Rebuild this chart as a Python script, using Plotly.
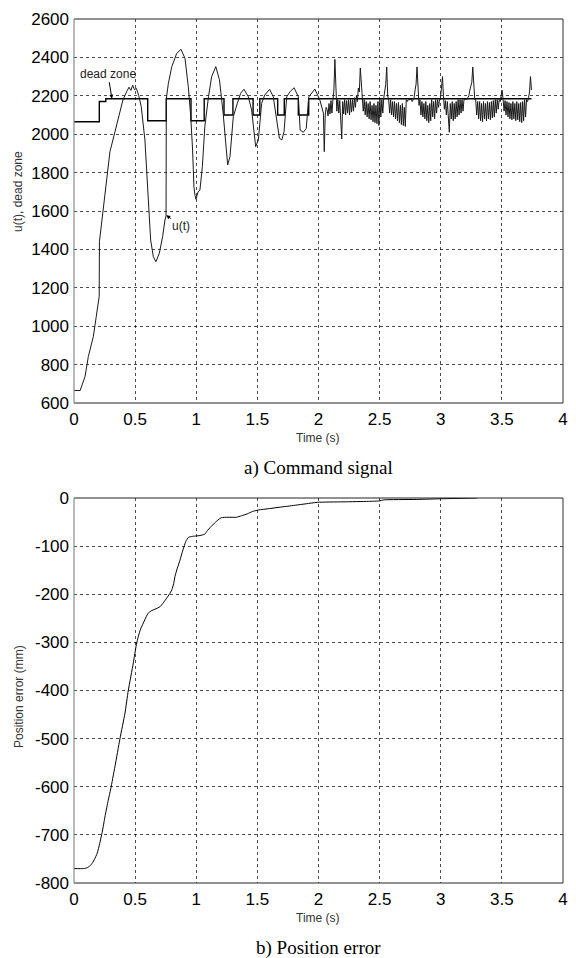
import plotly.graph_objects as go

# ---------------- a) Command signal ----------------
# smooth part of the command u(t) (time in s, command in counts)
u_time = [0.00, 0.05, 0.09, 0.117, 0.158, 0.186, 0.206, 0.208, 0.254, 0.294,
          0.349, 0.40, 0.43, 0.45, 0.465, 0.48, 0.495, 0.51, 0.53, 0.55,
          0.58, 0.594, 0.607, 0.627, 0.649, 0.67, 0.698, 0.725, 0.744, 0.753,
          0.755, 0.772, 0.80, 0.84, 0.875, 0.908, 0.935, 0.955, 0.97, 0.981,
          0.99, 0.998, 1.015, 1.03, 1.05, 1.07, 1.10, 1.126, 1.16, 1.19,
          1.22, 1.24, 1.257, 1.276, 1.303, 1.336, 1.363, 1.39, 1.426, 1.453,
          1.472, 1.486, 1.508, 1.535, 1.56, 1.60, 1.63, 1.663, 1.68, 1.70,
          1.718, 1.74, 1.767, 1.80, 1.835, 1.85, 1.875, 1.90, 1.92, 1.97,
          2.01, 2.04, 2.047, 2.055, 2.062]
u_value = [665, 665, 737, 841, 946, 1085, 1154, 1440, 1700, 1909,
           2048, 2178, 2221, 2245, 2228, 2255, 2232, 2239, 2200, 2143,
           1970, 1798, 1622, 1449, 1362, 1336, 1380, 1467, 1553, 1574,
           2185, 2265, 2352, 2421, 2442, 2395, 2247, 2091, 1918, 1727,
           1680, 1661, 1700, 1709, 1831, 2039, 2195, 2300, 2352, 2283,
           2109, 1935, 1840, 1883, 2091, 2161, 2213, 2234, 2195, 2126,
           2005, 1935, 1970, 2161, 2204, 2234, 2195, 2039, 1979, 1970,
           2013, 2195, 2221, 2242, 2195, 2022, 2010, 2030, 2194, 2235,
           2180, 2110, 1909, 2100, 2140]

# chattering part of u(t), sampled every 8 ms from t = 2.07 s
chatter_start = 2.07
chatter_dt = 0.008
chatter_value = [
    2130, 2095, 2160, 2105, 2175, 2110, 2180, 2230, 2390, 2200,
    2120, 2180, 2110, 2175, 2100, 1975, 2170, 2105, 2180, 2100,
    2175, 2110, 2180, 2100, 2180, 2115, 2180, 2120, 2190, 2140,
    2200, 2170, 2240, 2220, 2345, 2250, 2170, 2120, 2180, 2100,
    2170, 2090, 2160, 2080, 2170, 2075, 2150, 2065, 2160, 2060,
    2150, 2055, 2170, 2045, 2180, 2090, 2180, 2110, 2190, 2230,
    2260, 2350, 2200, 2180, 2110, 2180, 2100, 2170, 2090, 2170,
    2080, 2160, 2070, 2165, 2060, 2150, 2050, 2160, 2045, 2140,
    2040, 2180, 2170, 2180, 2180, 2180, 2185, 2170, 2180, 2190,
    2230, 2260, 2350, 2200, 2150, 2180, 2100, 2170, 2090, 2160,
    2080, 2170, 2070, 2150, 2060, 2160, 2070, 2180, 2090, 2170,
    2080, 2180, 2110, 2180, 2140, 2180, 2190, 2240, 2300, 2200,
    2130, 2175, 2100, 2170, 2090, 2010, 2160, 2080, 2170, 2070,
    2160, 2080, 2170, 2090, 2180, 2100, 2180, 2110, 2180, 2120,
    2180, 2180, 2185, 2180, 2190, 2200, 2230, 2250, 2270, 2350,
    2230, 2180, 2180, 2100, 2170, 2080, 2170, 2070, 2160, 2065,
    2170, 2080, 2160, 2070, 2170, 2080, 2165, 2075, 2170, 2085,
    2175, 2090, 2180, 2110, 2180, 2130, 2180, 2170, 2200, 2230,
    2180, 2120, 2175, 2100, 2170, 2090, 2165, 2080, 2160, 2075,
    2170, 2080, 2160, 2070, 2170, 2075, 2160, 2065, 2165, 2060,
    2170, 2070, 2180, 2090, 2180, 2170, 2190, 2220, 2300, 2230,
]

# dead-zone compensation level (piecewise constant)
dz_time = [0.0, 0.207, 0.26, 0.603, 0.755, 0.957, 1.065, 1.227, 1.30, 1.465,
           1.52, 1.666, 1.72, 1.835, 1.92, 3.742]
dz_value = [2065, 2170, 2185, 2070, 2185, 2070, 2185, 2100, 2185, 2100,
            2185, 2100, 2185, 2100, 2185, 2185]

# ---------------- b) Position error ----------------
err_time = [0.0, 0.08, 0.11, 0.14, 0.165, 0.19, 0.21, 0.23, 0.255, 0.28,
            0.30, 0.335, 0.376, 0.417, 0.444, 0.485, 0.51, 0.526, 0.545, 0.567,
            0.59, 0.608, 0.635, 0.663, 0.703, 0.73, 0.758, 0.78, 0.80, 0.815,
            0.826, 0.845, 0.867, 0.885, 0.90, 0.915, 0.935, 0.96, 0.995, 1.03,
            1.07, 1.09, 1.115, 1.15, 1.18, 1.205, 1.26, 1.327, 1.37, 1.417,
            1.46, 1.507, 1.60, 1.687, 1.75, 1.81, 1.90, 1.99, 2.20, 2.41,
            2.50, 2.53, 2.80, 3.02, 3.30]
err_value = [-770, -770, -768, -762, -752, -738, -718, -695, -660, -628,
             -605, -558, -500, -447, -400, -343, -305, -288, -272, -260,
             -247, -239, -234, -231, -226, -218, -208, -200, -191, -178,
             -163, -146, -129, -113, -101, -90, -82, -80, -79, -78,
             -75, -68, -61, -52, -45, -41, -40, -40, -37, -33,
             -28, -25, -22, -19, -17, -15, -12, -9, -8, -7,
             -6, -4, -3, -1.5, 0]

# axis ticks
time_ticks = [0, 0.5, 1, 1.5, 2, 2.5, 3, 3.5, 4]
time_labels = ["0", "0.5", "1", "1.5", "2", "2.5", "3", "3.5", "4"]
u_ticks = [600, 800, 1000, 1200, 1400, 1600, 1800, 2000, 2200, 2400, 2600]
err_ticks = [-800, -700, -600, -500, -400, -300, -200, -100, 0]
err_labels = ["-800", "-700", "-600", "-500", "-400", "-300", "-200", "-100", "0"]

# full u(t) series
chatter_time = [round(chatter_start + chatter_dt * i, 4) for i in range(len(chatter_value))]
u_time_all = u_time + chatter_time
u_value_all = u_value + chatter_value

W, H = 576, 958
TICK_FONT = dict(family="Liberation Sans, Arial, sans-serif", size=17, color="black")
SMALL_FONT = dict(family="Liberation Sans, Arial, sans-serif", size=12, color="#333333")
CAPTION_FONT = dict(family="Liberation Serif, Times New Roman, serif", size=19, color="black")

# plot-area boxes in pixels (left, top, right, bottom)
box_a = (74, 19, 563, 403)
box_b = (74, 498, 563, 883)


def xdom(box):
    return [box[0] / W, box[2] / W]


def ydom(box):
    return [1 - box[3] / H, 1 - box[1] / H]


fig = go.Figure()

fig.add_trace(go.Scatter(x=dz_time, y=dz_value, mode="lines", line_shape="hv",
                         line=dict(color="black", width=1.4),
                         xaxis="x", yaxis="y", showlegend=False))
fig.add_trace(go.Scatter(x=u_time_all, y=u_value_all, mode="lines",
                         line=dict(color="#1a1a1a", width=1),
                         xaxis="x", yaxis="y", showlegend=False))
fig.add_trace(go.Scatter(x=err_time, y=err_value, mode="lines", line_shape="spline",
                         line=dict(color="black", width=1, smoothing=0.6),
                         xaxis="x2", yaxis="y2", showlegend=False))

grid = dict(showgrid=True, gridcolor="rgba(0,0,0,0.7)", gridwidth=1,
            griddash="3px,3px", zeroline=False, showline=False, ticks="",
            tickfont=TICK_FONT, automargin=False, ticklabelstandoff=4)

fig.update_layout(
    width=W, height=H,
    margin=dict(l=0, r=0, t=0, b=0),
    paper_bgcolor="white", plot_bgcolor="white",
    xaxis=dict(domain=xdom(box_a), range=[0, 4], anchor="y",
               tickvals=time_ticks, ticktext=time_labels, **grid),
    yaxis=dict(domain=ydom(box_a), range=[600, 2600], anchor="x",
               tickvals=u_ticks, **grid),
    xaxis2=dict(domain=xdom(box_b), range=[0, 4], anchor="y2",
                tickvals=time_ticks, ticktext=time_labels, **grid),
    yaxis2=dict(domain=ydom(box_b), range=[-800, 0], anchor="x2",
                tickvals=err_ticks, ticktext=err_labels, **grid),
)

# plot frames: dark top/right/bottom, lighter left edge
shapes = []
for box in (box_a, box_b):
    l, t, r, b = box
    def px(x):
        return x / W
    def py(y):
        return 1 - y / H
    shapes.append(dict(type="line", xref="paper", yref="paper", x0=px(l), x1=px(r), y0=py(t), y1=py(t),
                       line=dict(color="#222222", width=1)))
    shapes.append(dict(type="line", xref="paper", yref="paper", x0=px(l), x1=px(r), y0=py(b), y1=py(b),
                       line=dict(color="#222222", width=1)))
    shapes.append(dict(type="line", xref="paper", yref="paper", x0=px(r), x1=px(r), y0=py(b), y1=py(t),
                       line=dict(color="#333333", width=1)))
    shapes.append(dict(type="line", xref="paper", yref="paper", x0=px(l), x1=px(l), y0=py(b), y1=py(t),
                       line=dict(color="#8a8a8a", width=1.2)))
fig.update_layout(shapes=shapes)

ann = []
# axis titles
ann.append(dict(text="Time (s)", xref="paper", yref="paper", x=318 / W, y=1 - 438 / H,
                showarrow=False, font=SMALL_FONT, xanchor="center", yanchor="middle"))
ann.append(dict(text="Time (s)", xref="paper", yref="paper", x=318 / W, y=1 - 918 / H,
                showarrow=False, font=SMALL_FONT, xanchor="center", yanchor="middle"))
ann.append(dict(text="u(t), dead zone", xref="paper", yref="paper", x=18 / W, y=1 - 192 / H,
                showarrow=False, font=SMALL_FONT, textangle=-90, xanchor="center", yanchor="middle"))
ann.append(dict(text="Position error (mm)", xref="paper", yref="paper", x=19 / W, y=1 - 697 / H,
                showarrow=False, font=SMALL_FONT, textangle=-90, xanchor="center", yanchor="middle"))
# captions
ann.append(dict(text="a) Command signal", xref="paper", yref="paper", x=318 / W, y=1 - 468 / H,
                showarrow=False, font=CAPTION_FONT, xanchor="center", yanchor="middle"))
ann.append(dict(text="b) Position error", xref="paper", yref="paper", x=318 / W, y=1 - 948 / H,
                showarrow=False, font=CAPTION_FONT, xanchor="center", yanchor="middle"))
# curve labels with arrows
ann.append(dict(text="dead zone", x=0.31, y=2185, xref="x", yref="y",
                showarrow=True, ax=-4, ay=-25, arrowhead=2, arrowsize=0.8, arrowwidth=1,
                arrowcolor="black", font=dict(family="Liberation Sans, Arial, sans-serif", size=12, color="#222222")))
ann.append(dict(text="u(t)", x=0.755, y=1578, xref="x", yref="y",
                showarrow=True, ax=15, ay=11, arrowhead=2, arrowsize=0.8, arrowwidth=1,
                arrowcolor="black", font=dict(family="Liberation Sans, Arial, sans-serif", size=12, color="#222222")))
fig.update_layout(annotations=ann)

fig.write_html("out.html")
